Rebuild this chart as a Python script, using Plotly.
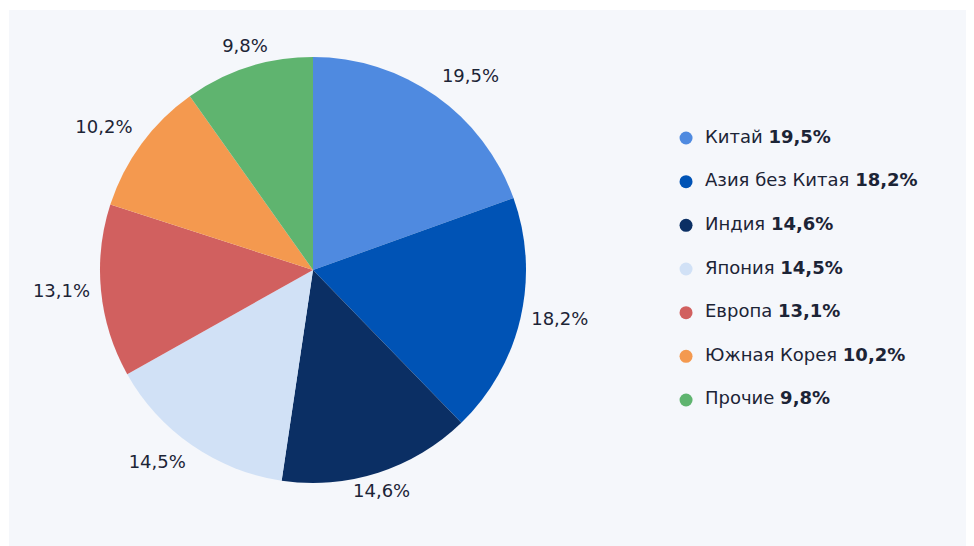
"""Pie chart: distribution by region with a custom legend column."""

import plotly.graph_objects as go

# Data
regions = ["Китай", "Азия без Китая", "Индия", "Япония", "Европа", "Южная Корея", "Прочие"]
shares = [19.5, 18.2, 14.6, 14.5, 13.1, 10.2, 9.8]
colors = ["#4f8ae0", "#0053b5", "#0b2f64", "#d1e1f6", "#d1605f", "#f4994f", "#5fb46f"]

FONT = "DejaVu Sans, Verdana, sans-serif"
TEXT_COLOR = "#1c2436"

# the page body adds an 8px margin, so the figure is 16px smaller than the window
W, H = 966, 538


def fmt(v):
    return f"{v:.1f}".replace(".", ",") + "%"


def domain_around(cx, cy, r):
    return dict(x=[(cx - r) / W, (cx + r) / W], y=[(H - cy - r) / H, (H - cy + r) / H])


def label_position(angle):
    # pick the text anchor so the label grows away from the pie
    sectors = ["top center", "top right", "middle right", "bottom right",
               "bottom center", "bottom left", "middle left", "top left"]
    return sectors[int(((angle + 22.5) % 360) // 45)]


pct_labels = [fmt(v) for v in shares]

# mid angle of each slice, clockwise from 12 o'clock
total = sum(shares)
mid_angles = []
acc = 0.0
for v in shares:
    mid_angles.append((acc + v / 2) / total * 360)
    acc += v

fig = go.Figure()

cx, cy, r = 305, 262, 213
R_POLAR = 260      # polar frame in pixels, radial axis counts pixels too
LABEL_R = 224

fig.add_trace(go.Pie(
    labels=regions,
    values=shares,
    textinfo="none",
    marker=dict(colors=colors, line=dict(width=0)),
    sort=False,
    direction="clockwise",
    rotation=0,
    showlegend=False,
    hovertext=pct_labels,
    hoverinfo="label+text",
    domain=domain_around(cx, cy, r),
))

# outside labels on a polar frame sharing the pie centre
fig.add_trace(go.Scatterpolar(
    theta=mid_angles,
    r=[LABEL_R] * len(shares),
    mode="text",
    text=pct_labels,
    textposition=[label_position(a) for a in mid_angles],
    textfont=dict(family=FONT, size=18, color=TEXT_COLOR),
    hoverinfo="skip",
    showlegend=False,
    cliponaxis=False,
))

# legend drawn as a marker column plus a text column
legend_text = [f"{name} <b>{p}</b>" for name, p in zip(regions, pct_labels)]
fig.add_trace(go.Scatter(
    x=[0.0384] * len(regions),
    y=list(range(len(regions))),
    mode="markers",
    marker=dict(color=colors, size=13),
    hoverinfo="skip",
    showlegend=False,
    cliponaxis=False,
))
fig.add_trace(go.Scatter(
    x=[0.1017] * len(regions),
    y=list(range(len(regions))),
    mode="text",
    text=legend_text,
    textposition="middle right",
    textfont=dict(family=FONT, size=18, color=TEXT_COLOR),
    hoverinfo="skip",
    showlegend=False,
    cliponaxis=False,
))

fig.update_xaxes(domain=[0.69, 1.0], range=[0, 1], visible=False, fixedrange=True)
fig.update_yaxes(domain=[0.2308, 0.7989], range=[6.5, -0.5], visible=False, fixedrange=True)

fig.update_layout(
    width=W,
    height=H,
    margin=dict(l=0, r=0, t=0, b=0),
    paper_bgcolor="white",
    plot_bgcolor="rgba(0,0,0,0)",
    font=dict(family=FONT, color=TEXT_COLOR),
    polar=dict(
        domain=domain_around(cx, cy, R_POLAR),
        bgcolor="rgba(0,0,0,0)",
        angularaxis=dict(direction="clockwise", rotation=90, visible=False),
        radialaxis=dict(range=[0, R_POLAR], visible=False),
    ),
    shapes=[dict(
        type="rect", xref="paper", yref="paper",
        x0=1 / W, x1=1, y0=0, y1=1 - 2 / H,
        fillcolor="#f5f7fb", line=dict(width=0), layer="below",
    )],
)

fig.write_html("out.html")
